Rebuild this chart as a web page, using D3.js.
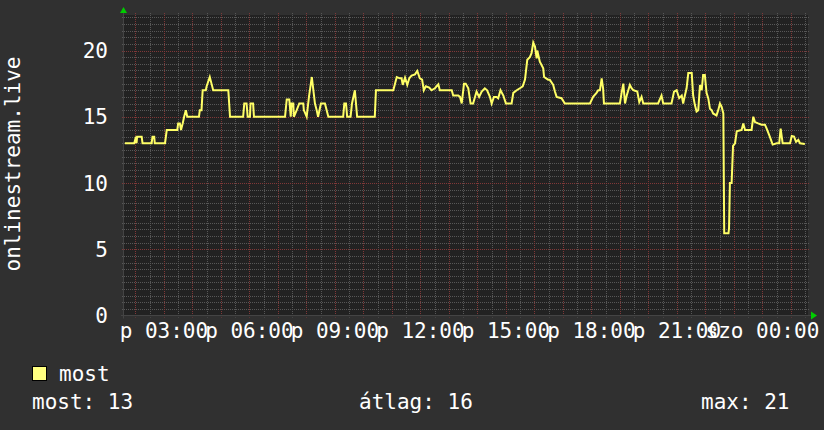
<!DOCTYPE html>
<html>
<head>
<meta charset="utf-8">
<script src="https://d3js.org/d3.v7.min.js"></script>
<style>
  body { margin: 0; background: #303030; }
  svg text { font-family: "DejaVu Sans Mono", monospace; fill: #ffffff; }
</style>
</head>
<body>
<div id="chart"></div>
<script>
var width = 824
var height = 430

// hours since friday 00:00, listeners
var samples = [
  [1.63,13],[1.96,13],[2.02,13.5],[2.04,13],[2.06,13.5],[2.22,13.5],[2.25,13],[2.57,13],[2.60,13.5],[2.66,13.5],
  [2.68,13],[3.04,13],[3.10,14],[3.47,14],[3.50,14.5],[3.56,14.5],[3.60,14],[3.66,14.5],[3.71,15],[3.77,15.5],
  [3.82,15],[4.23,15],[4.26,15.5],[4.32,15.5],[4.36,17],[4.47,17],[4.50,17.3],[4.61,18],[4.67,17.5],[4.73,17],
  [5.26,17],[5.32,15],[5.78,15],[5.82,16],[5.90,16],[5.94,15],[6.02,15],[6.04,16],[6.13,16],[6.16,15],
  [7.25,15],[7.31,16.3],[7.40,16.3],[7.45,15],[7.48,16],[7.54,16],[7.56,15],[7.66,15.5],[7.75,16],[7.89,16],
  [7.91,15.5],[8.01,15],[8.09,16.5],[8.19,18],[8.30,16],[8.36,15.5],[8.41,15],[8.51,16],[8.65,16],[8.77,15],
  [9.29,15],[9.33,16],[9.39,16],[9.43,15],[9.55,15],[9.60,16],[9.70,17],[9.78,15],[10.40,15],[10.44,17],
  [11.05,17],[11.17,18],[11.28,17.9],[11.34,17.9],[11.38,17.4],[11.46,17.95],[11.54,17.4],[11.61,17.9],[11.69,18.1],[11.81,18.2],
  [11.89,18.45],[11.98,17.9],[12.06,17.8],[12.12,17],[12.19,17.3],[12.31,17.2],[12.39,17],[12.51,17.15],[12.63,17.45],[12.68,17],
  [13.10,17],[13.15,16.6],[13.33,16.6],[13.39,16.5],[13.45,16],[13.53,17.5],[13.59,17.5],[13.68,17.15],[13.76,16],[13.85,16],
  [13.97,16.9],[14.06,16.5],[14.15,16.9],[14.26,17.15],[14.34,17],[14.44,16.5],[14.50,16],[14.58,16.5],[14.67,16.5],[14.73,16.4],
  [14.81,17],[14.91,16.6],[15.00,16],[15.20,16],[15.26,16.8],[15.38,17],[15.49,17.15],[15.59,17.3],[15.67,17.8],[15.75,19.3],
  [15.84,19.5],[15.90,19.8],[15.96,20.6],[16.02,20.3],[16.08,19.4],[16.10,20],[16.19,19.15],[16.31,18.65],[16.34,18],[16.48,17.8],
  [16.54,17.8],[16.66,17.4],[16.72,16.9],[16.78,16.5],[16.95,16.4],[17.07,16],[17.95,16],[18.06,16.5],[18.18,16.8],[18.24,17],
  [18.30,17],[18.36,17.9],[18.41,17.15],[18.44,16],[19.00,16],[19.06,16.8],[19.12,17.5],[19.18,16],[19.24,16.6],[19.35,17.4],
  [19.41,17.15],[19.47,17],[19.61,16.9],[19.68,16.1],[19.76,16.5],[19.82,16],[20.34,16],[20.46,16.6],[20.52,16],[20.81,16],
  [20.90,16.9],[20.99,17],[21.08,16.4],[21.17,16.6],[21.22,16],[21.28,16.6],[21.34,17.15],[21.40,18.3],[21.52,18.3],[21.57,16.6],
  [21.63,15.9],[21.69,15.4],[21.75,15.5],[21.81,17.4],[21.87,17],[21.92,18.15],[21.98,18.15],[22.04,16.8],[22.10,16.4],[22.16,15.6],
  [22.22,15.5],[22.27,15.25],[22.39,15.1],[22.45,15.5],[22.51,16],[22.57,15.75],[22.63,15.25],[22.66,6.2],[22.81,6.2],[22.83,6.6],
  [22.86,10],[22.92,10],[22.97,12.8],[23.04,13],[23.10,13.9],[23.27,14],[23.33,14.5],[23.39,14],[23.62,14],[23.68,15],
  [23.74,14.6],[23.85,14.5],[23.97,14.4],[24.09,14.4],[24.15,14.1],[24.26,13.5],[24.36,12.9],[24.50,13],[24.59,13],[24.64,14.1],
  [24.71,13],[24.97,13],[25.03,13.55],[25.11,13.5],[25.18,13.1],[25.26,13.25],[25.32,13],[25.49,12.95]
]

var xTickHours = [3, 6, 9, 12, 15, 18, 21, 24]
var xTickLabels = ["p 03:00", "p 06:00", "p 09:00", "p 12:00", "p 15:00", "p 18:00", "p 21:00", "szo 00:00"]
var yTicks = [0, 5, 10, 15, 20]
var yTitle = "onlinestream.live"
var seriesName = "most"
var statLabels = ["most: 13", "átlag: 16", "max: 21"]

var plot = {left: 124, right: 808, top: 15, bottom: 315.5}

var svg = d3.select("#chart").append("svg")
  .attr("width", width)
  .attr("height", height)

svg.append("rect")
  .attr("width", width).attr("height", height)
  .attr("fill", "#303030")

var x = d3.scaleLinear().domain([1.6, 25.6]).range([plot.left, plot.right])
var y = d3.scaleLinear().domain([0, 20]).range([plot.bottom, 50.5])
var yTop = y.invert(plot.top)

svg.append("rect")
  .attr("x", plot.left).attr("y", plot.top)
  .attr("width", plot.right - plot.left).attr("height", plot.bottom - plot.top)
  .attr("fill", "#222222")

// minor grid
var minorY = d3.range(0.5, yTop, 0.5).filter(function(v){ return v % 5 != 0 })
var minorX = d3.range(2, 25.6, 0.5).filter(function(h){ return h % 1 != 0 })
var majorY = d3.range(5, yTop, 5)
var majorX = d3.range(2, 25.6, 1)

var grid = svg.append("g")
grid.selectAll("line.minory")
  .data(minorY).enter()
  .append("line").classed("minory", true)
    .attr("x1", plot.left - 2).attr("x2", plot.right + 2)
    .attr("y1", function(d){ return Math.round(y(d)) + 0.5 })
    .attr("y2", function(d){ return Math.round(y(d)) + 0.5 })
    .attr("stroke", "#575757").attr("stroke-dasharray", "1,1")
grid.selectAll("line.minorx")
  .data(minorX).enter()
  .append("line").classed("minorx", true)
    .attr("y1", plot.top - 2).attr("y2", plot.bottom + 2)
    .attr("x1", function(d){ return Math.round(x(d)) + 0.5 })
    .attr("x2", function(d){ return Math.round(x(d)) + 0.5 })
    .attr("stroke", "#575757").attr("stroke-dasharray", "1,1")
grid.selectAll("line.majory")
  .data(majorY).enter()
  .append("line").classed("majory", true)
    .attr("x1", plot.left - 2).attr("x2", plot.right + 2)
    .attr("y1", function(d){ return Math.round(y(d)) + 0.5 })
    .attr("y2", function(d){ return Math.round(y(d)) + 0.5 })
    .attr("stroke", "#803838").attr("stroke-dasharray", "1,1")
grid.selectAll("line.majorx")
  .data(majorX).enter()
  .append("line").classed("majorx", true)
    .attr("y1", plot.top - 2).attr("y2", plot.bottom + 2)
    .attr("x1", function(d){ return Math.round(x(d)) + 0.5 })
    .attr("x2", function(d){ return Math.round(x(d)) + 0.5 })
    .attr("stroke", "#803838").attr("stroke-dasharray", "1,1")

// axes
svg.append("line")
  .attr("x1", plot.left - 0.5).attr("x2", plot.left - 0.5)
  .attr("y1", plot.top - 3).attr("y2", plot.bottom + 3)
  .attr("stroke", "#444444")
svg.append("line")
  .attr("x1", plot.left - 3).attr("x2", plot.right + 3)
  .attr("y1", plot.bottom).attr("y2", plot.bottom)
  .attr("stroke", "#444444")
svg.append("path")
  .attr("d", d3.line()([[plot.left - 4, plot.top - 2], [plot.left + 3, plot.top - 2], [plot.left - 0.5, plot.top - 8]]))
  .attr("fill", "#00cc00")
svg.append("path")
  .attr("d", d3.line()([[plot.right + 3, plot.bottom - 4], [plot.right + 3, plot.bottom + 4], [plot.right + 9, plot.bottom]]))
  .attr("fill", "#00cc00")

// series
var line = d3.line()
  .x(function(d){ return x(d[0]) })
  .y(function(d){ return y(d[1]) })
svg.append("path")
  .datum(samples)
  .attr("d", line)
  .attr("fill", "none")
  .attr("stroke", "#ffff66")
  .attr("stroke-width", 2)
  .attr("stroke-linejoin", "miter")

// tick labels
svg.selectAll("text.ytick")
  .data(yTicks).enter()
  .append("text").classed("ytick", true)
    .attr("x", 108)
    .attr("y", function(d){ return y(d) })
    .attr("dy", "0.36em")
    .attr("text-anchor", "end")
    .attr("font-size", 21)
    .text(function(d){ return d })

svg.selectAll("text.xtick")
  .data(xTickHours).enter()
  .append("text").classed("xtick", true)
    .attr("x", function(d){ return x(d) })
    .attr("y", 338)
    .attr("text-anchor", "middle")
    .attr("font-size", 21)
    .text(function(d, i){ return xTickLabels[i] })

svg.append("text")
  .attr("transform", "translate(20,164) rotate(-90)")
  .attr("text-anchor", "middle")
  .attr("font-size", 21)
  .text(yTitle)

// legend
svg.append("rect")
  .attr("x", 32.5).attr("y", 366.5)
  .attr("width", 14).attr("height", 14)
  .attr("fill", "#ffff80").attr("stroke", "#000000")
svg.append("text")
  .attr("x", 59).attr("y", 381)
  .attr("font-size", 21)
  .text(seriesName)

var statX = [32, 359, 701]
svg.selectAll("text.stat")
  .data(statLabels).enter()
  .append("text").classed("stat", true)
    .attr("x", function(d, i){ return statX[i] })
    .attr("y", 409)
    .attr("font-size", 21)
    .text(function(d){ return d })
</script>
</body>
</html>
